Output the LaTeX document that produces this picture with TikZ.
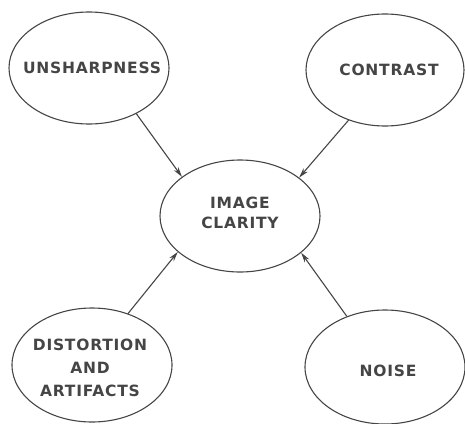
\documentclass[tikz,border=0pt]{standalone}
\usepackage{fontspec}
\setmainfont{DejaVu Sans}[LetterSpace=5]
\usetikzlibrary{shapes.geometric,arrows.meta}
\definecolor{ink}{HTML}{454545}
\begin{document}
\begin{tikzpicture}[x=1pt,y=-1pt,
  blob/.style={ellipse,draw=ink,line width=1.1pt,minimum width=160pt,minimum height=112pt,inner sep=0pt},
  word/.style={text=ink,font=\fontsize{15.5}{20}\selectfont\bfseries,align=center,inner sep=0pt},
  link/.style={draw=ink,line width=1.1pt,-{Stealth[length=10pt,width=5.5pt]}}]
\useasboundingbox (0,0) rectangle (465,423);
\node[blob,label={[word,xshift=3pt]center:UNSHARPNESS}] (u) at (89,68) {};
\node[blob,minimum width=158pt,label={[word,xshift=4pt]center:CONTRAST}] (c) at (385,70) {};
\node[blob,label={[word,yshift=3pt]center:IMAGE\\CLARITY}] (ic) at (240,216) {};
\node[blob,minimum height=114pt,label={[word,font=\fontsize{15.5}{23}\selectfont\bfseries,xshift=-2pt,yshift=-3pt]center:DISTORTION\\AND\\ARTIFACTS}] (d) at (92,365) {};
\node[blob,minimum height=114pt,label={[word,xshift=3pt,yshift=-4pt]center:NOISE}] (n) at (385,367) {};
\draw[link] (u.-44) -- (ic.146);
\draw[link] (c.-126) -- (ic.33);
\draw[link] (d.55) -- (ic.-150);
\draw[link] (n.127) -- (ic.-31);
\end{tikzpicture}
\end{document}
